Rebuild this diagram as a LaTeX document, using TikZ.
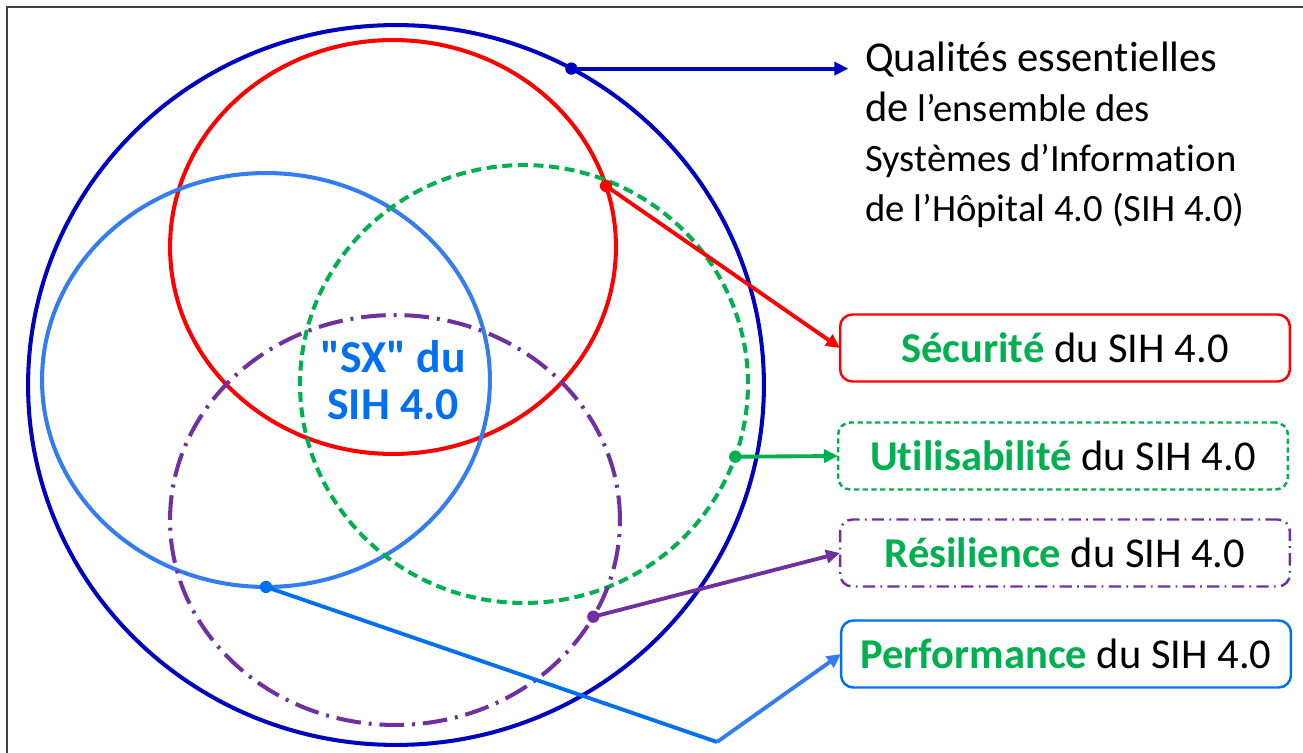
\documentclass[tikz,border=0pt]{standalone}
\usepackage{fontspec}
\setmainfont{Carlito}[Ligatures=NoCommon]
\usetikzlibrary{shapes.geometric,arrows.meta}
\definecolor{darkblue}{RGB}{0,0,192}
\definecolor{sxblue}{RGB}{0,112,240}
\definecolor{ringblue}{RGB}{51,125,240}
\definecolor{okgreen}{RGB}{0,176,80}
\definecolor{okpurple}{RGB}{112,48,160}
\definecolor{framegray}{RGB}{64,64,64}
\newcommand{\bigde}{{\fontsize{24.2}{28.4}\selectfont de}}
\tikzset{
  ring/.style={ellipse, draw, line width=2.3pt, inner sep=0pt, outer sep=0pt},
  qualbox/.style={rounded corners=7pt, draw, line width=1.4pt, minimum width=9cm, minimum height=1.34cm, inner sep=0pt, outer sep=0pt, font=\fontsize{24.2}{28}\selectfont},
  link/.style={line width=2.2pt, ->}
}
\begin{document}
\begin{tikzpicture}[x=0.02cm, y=-0.02cm, >={Triangle[length=8pt,width=7.5pt]}]
    \useasboundingbox (0,0) rectangle (1303,753);
    \draw[framegray, line width=1.2pt] (7,753) -- (7,7) -- (1303,7);
    % the five qualities as rings
    \node[ring, darkblue, minimum width=14.72cm, minimum height=14.4cm] (outer) at (396,385) {};
    \node[ring, red, minimum width=8.92cm, minimum height=8.28cm] (secring) at (393,247) {};
    \node[ring, ringblue, minimum width=8.96cm, minimum height=8.28cm] (perfring) at (266,380) {};
    \node[ring, okgreen, dash pattern=on 5.7pt off 3.2pt, minimum width=8.96cm, minimum height=8.76cm] (utiring) at (524,384) {};
    \node[ring, okpurple, dash pattern=on 14pt off 4.5pt on 1.7pt off 4.5pt, minimum width=9cm, minimum height=8.2cm] (resring) at (395,520) {};
    \node[text=sxblue, font=\bfseries\fontsize{26}{27}\selectfont, align=center] (sx) at (393,380) {\textquotedbl SX\textquotedbl{} du\\SIH 4.0};
    % labels
    \node[anchor=north west, align=left, inner sep=0pt, font=\fontsize{22}{28.4}\selectfont] (qual) at (865,42) {{\fontsize{24.2}{28.4}\selectfont Qualités essentielles}\\\bigde{} l’ensemble des\\Systèmes d’Information\\de l’Hôpital 4.0 (SIH 4.0)};
    \node[qualbox, draw=red] (sec) at (1065,348) {\textcolor{okgreen}{\bfseries Sécurité} du SIH 4.0};
    \node[qualbox, draw=okgreen, dash pattern=on 3pt off 2pt] (uti) at (1063,456) {\textcolor{okgreen}{\bfseries Utilisabilité} du SIH 4.0};
    \node[qualbox, draw=okpurple, dash pattern=on 7pt off 3pt on 1pt off 3pt] (res) at (1065,553) {\textcolor{okgreen}{\bfseries Résilience} du SIH 4.0};
    \node[qualbox, draw=sxblue] (perf) at (1066,654) {\textcolor{okgreen}{\bfseries Performance} du SIH 4.0};
    % connectors
    \draw[link, darkblue, shorten >=9.5pt] (outer.61.5) -- (outer.61.5 -| qual.west);
    \draw[link, red] (secring.16.5) -- (sec.west);
    \draw[link, okgreen] (utiring.-19) -- (uti.west);
    \draw[link, okpurple] (resring.-26.2) -- (res.west);
    \coordinate (bend) at (717,742);
    \draw[line width=2.2pt, sxblue] (perfring.south) -- (bend);
    \draw[link, ringblue] (bend) -- (perf.west);
    \foreach \pt/\col in {outer.61.5/darkblue, secring.16.5/red, utiring.-19/okgreen, resring.-26.2/okpurple, perfring.south/sxblue}
      \fill[\col] (\pt) circle (3.5pt);
\end{tikzpicture}
\end{document}
